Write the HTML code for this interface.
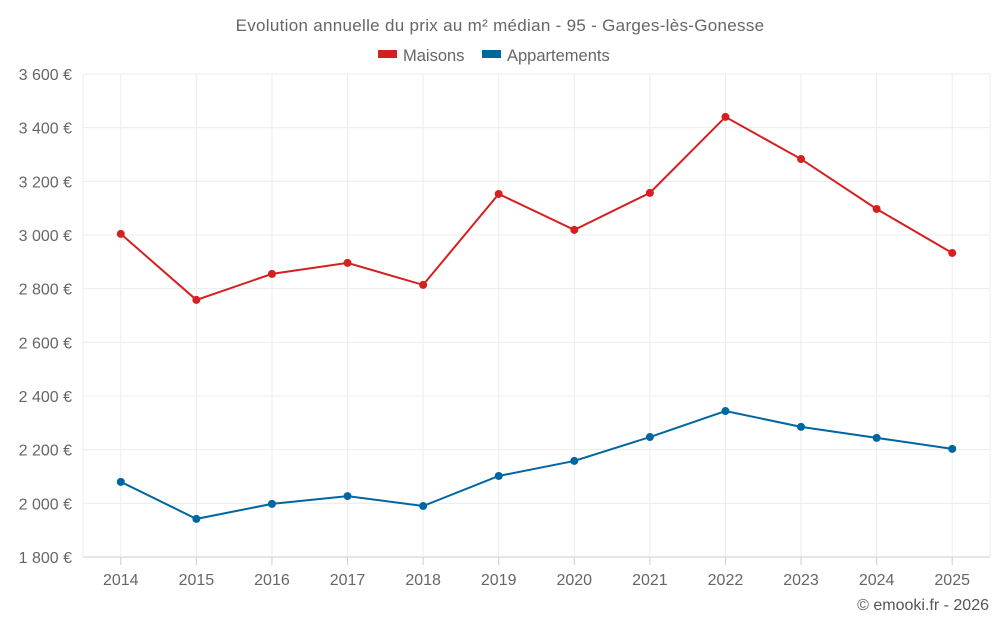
<!DOCTYPE html>
<html><head><meta charset="utf-8">
<style>
html,body{margin:0;padding:0;background:#fff;}
svg{display:block;font-family:"Liberation Sans",sans-serif;}
</style></head>
<body>
<svg id="chart" width="1000" height="625" viewBox="0 0 1000 625">
<text x="500" y="31" text-anchor="middle" font-size="17" letter-spacing="0.3" fill="#666">Evolution annuelle du prix au m² médian - 95 - Garges-lès-Gonesse</text>
<g>
<g><rect x="378" y="50" width="19" height="8" fill="#d62020"/><text x="403" y="61" font-size="16.5" fill="#666">Maisons</text></g>
<g><rect x="482" y="50" width="19" height="8" fill="#0066a1"/><text x="507" y="61" font-size="16.5" fill="#666">Appartements</text></g>
</g>
<g id="grid"></g><g id="axes"></g><g id="series"></g>
<text x="989" y="610" text-anchor="end" font-size="16" fill="#555">© emooki.fr - 2026</text>
</svg>
<script>
const years=["2014","2015","2016","2017","2018","2019","2020","2021","2022","2023","2024","2025"];
const maisons=[3004,2758,2855,2896,2814,3153,3019,3157,3440,3283,3097,2933];
const appartements=[2080,1942,1998,2027,1990,2102,2158,2247,2344,2285,2244,2203];
const yTicks=[1800,2000,2200,2400,2600,2800,3000,3200,3400,3600];
const yTickLabels=["1 800 €","2 000 €","2 200 €","2 400 €","2 600 €","2 800 €","3 000 €","3 200 €","3 400 €","3 600 €"];
const L=83,R=990,T=74,B=557,yMin=1800,yMax=3600;
const step=(R-L)/years.length;
const x=i=>L+step*(i+0.5);
const y=v=>B-(v-yMin)/(yMax-yMin)*(B-T);
const NS="http://www.w3.org/2000/svg";
function mk(tag,attrs,parent){const e=document.createElementNS(NS,tag);for(const k in attrs)e.setAttribute(k,attrs[k]);parent.appendChild(e);return e;}
const grid=document.getElementById('grid'),axes=document.getElementById('axes'),series=document.getElementById('series');
yTicks.forEach((t,i)=>{
 const l=mk('line',{x1:L,x2:R,y1:y(t),y2:y(t),stroke:i===0?'#ccc':'#ececec','stroke-width':1},grid);
 
 
 const tx=mk('text',{x:72,y:y(t)+6,'text-anchor':'end','font-size':16,fill:'#666'},axes);
 tx.textContent=yTickLabels[i];
 
 
});
[L,R].forEach(gx=>{
 const l=mk('line',{x1:gx,x2:gx,y1:T,y2:B,stroke:'#ececec','stroke-width':1},grid);
 
 
});
years.forEach((yr,i)=>{
 const gl=mk('line',{x1:x(i),x2:x(i),y1:T,y2:B,stroke:'#ececec','stroke-width':1},grid);
 
 
 const tk=mk('line',{x1:x(i),x2:x(i),y1:B,y2:B+8,stroke:'#ccc'},axes);
 
 
 const tx=mk('text',{x:x(i),y:585,'text-anchor':'middle','font-size':16,fill:'#666'},axes);
 tx.textContent=yr;
 
 
});
function drawSeries(vals,color,name){
 const g=mk('g',{},series);
 
 
 const p=mk('polyline',{points:vals.map((v,i)=>x(i)+','+y(v)).join(' '),fill:'none',stroke:color,'stroke-width':2},g);
 
 
 vals.forEach((v,i)=>{
  const c=mk('circle',{cx:x(i),cy:y(v),r:4,fill:color},g);
  
  
 });
}
drawSeries(maisons,'#d62020','maisons');
drawSeries(appartements,'#0066a1','appartements');
</script>
</body></html>
